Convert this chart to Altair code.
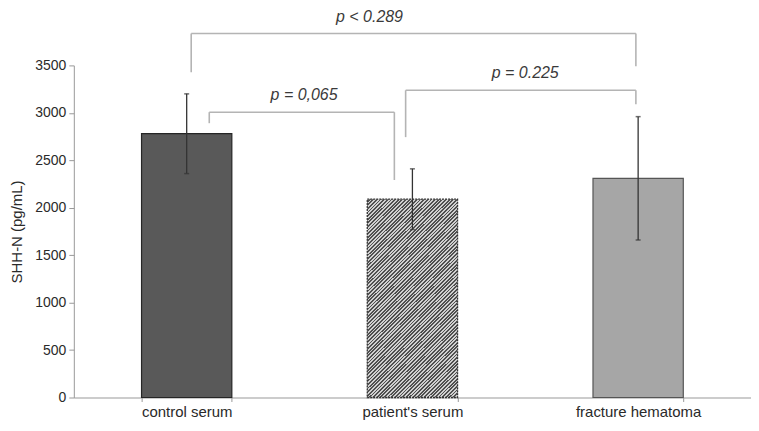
import altair as alt
import pandas as pd

categories = ["control serum", "patient's serum", "fracture hematoma"]
means = [2780, 2090, 2310]
errors = [420, 320, 650]

# significance brackets (x in category-index units, y in pg/mL)
br_left = [0.6, 1.47, 0.52]
br_right = [1.42, 2.49, 2.49]
br_top = [3007, 3238, 3837]
br_left_end = [2891, 2744, 3427]
br_right_end = [2292, 3091, 3490]
p_labels = ["p = 0,065", "p = 0.225", "p < 0.289"]
p_label_x = [1.02, 2.0, 1.31]
p_label_y = [3186, 3416, 4005]

df = pd.DataFrame({
    "cat": categories,
    "mean": means,
    "lo": [m - e for m, e in zip(means, errors)],
    "hi": [m + e for m, e in zip(means, errors)],
})

segs = []
for xl, xr, yt, yl, yr in zip(br_left, br_right, br_top, br_left_end, br_right_end):
    segs.append({"x": xl, "x2": xr, "y": yt, "y2": yt})
    segs.append({"x": xl, "x2": xl, "y": yt, "y2": yl})
    segs.append({"x": xr, "x2": xr, "y": yt, "y2": yr})
seg_df = pd.DataFrame(segs)
lab_df = pd.DataFrame({"label": p_labels, "x": p_label_x, "y": p_label_y})

FONT = "Liberation Sans"

xband = alt.X("cat:N", sort=categories, title=None,
              scale=alt.Scale(paddingInner=0.6, paddingOuter=0.3),
              axis=alt.Axis(labelAngle=0, labelFontSize=15, labelColor="#2a2a2a",
                            labelFont=FONT, domainColor="#999", tickColor="#999",
                            tickSize=4, tickBand="extent", labelPadding=3))
yscale = alt.Scale(domain=[0, 3500], nice=False)
yenc = alt.Y("mean:Q", scale=yscale, title="SHH-N (pg/mL)",
             axis=alt.Axis(values=[0, 500, 1000, 1500, 2000, 2500, 3000, 3500],
                           format="d", grid=False, labelFontSize=14, labelColor="#2a2a2a",
                           labelFont=FONT, titleFont=FONT, titleFontSize=15,
                           titleFontWeight="normal", titleColor="#2a2a2a",
                           domainColor="#999", tickColor="#999", tickSize=5,
                           labelPadding=3, titlePadding=10))

base = alt.Chart(df)

solid = base.transform_filter(alt.datum.cat != "patient's serum").mark_bar(
    strokeWidth=1.2
).encode(
    x=xband, y=yenc,
    color=alt.Color("cat:N", scale=alt.Scale(domain=["control serum", "fracture hematoma"],
                                             range=["#595959", "#a6a6a6"]), legend=None),
    stroke=alt.Stroke("cat:N", scale=alt.Scale(domain=["control serum", "fracture hematoma"],
                                               range=["#262626", "#555555"]), legend=None),
)

# diagonal hatch drawn as a striped linear gradient (bar aspect ~90 x 200 px)
vx, vy = 90.0 / 200.0, 1.0
t_scale = (vx + vy) / (vx * vx + vy * vy)
gx, gy = vx * t_scale, vy * t_scale
n_periods = 80
stops = []
for i in range(n_periods):
    a = i / n_periods
    m = (i + 0.5) / n_periods
    b = (i + 1) / n_periods
    stops += [alt.GradientStop(offset=a, color="#d0d0d0"),
              alt.GradientStop(offset=m, color="#d0d0d0"),
              alt.GradientStop(offset=m, color="#505050"),
              alt.GradientStop(offset=b, color="#505050")]
hatch = alt.LinearGradient(gradient="linear", stops=stops, x1=0, y1=0, x2=gx, y2=gy)

hatched = base.transform_filter(alt.datum.cat == "patient's serum").mark_bar(
    fill=hatch, stroke="#333333", strokeWidth=1.3, strokeDash=[2, 1]
).encode(x=xband, y=yenc)

err = base.mark_rule(color="#333333", strokeWidth=1.3).encode(
    x=xband, y=alt.Y("lo:Q", scale=yscale), y2="hi:Q")
cap_hi = base.mark_tick(color="#333333", thickness=1.5, size=5).encode(
    x=xband, y=alt.Y("hi:Q", scale=yscale))
cap_lo = base.mark_tick(color="#333333", thickness=1.5, size=5).encode(
    x=xband, y=alt.Y("lo:Q", scale=yscale))

bars = alt.layer(solid, hatched, err, cap_hi, cap_lo)

xq = alt.Scale(domain=[0, 3], nice=False, zero=False)
brackets = alt.Chart(seg_df).mark_rule(color="#b4b4b4", strokeWidth=1.6).encode(
    x=alt.X("x:Q", scale=xq, axis=None), x2="x2:Q",
    y=alt.Y("y:Q", scale=yscale), y2="y2:Q")
labels = alt.Chart(lab_df).mark_text(
    font=FONT, fontSize=16, fontStyle="italic", color="#3a3a3a"
).encode(x=alt.X("x:Q", scale=xq, axis=None), y=alt.Y("y:Q", scale=yscale), text="label:N")

ann = alt.layer(brackets, labels)

chart = alt.layer(bars, ann).resolve_scale(x="independent").properties(
    width=679, height=333,
    view=alt.ViewBackground(stroke="transparent", strokeWidth=0),
    autosize=alt.AutoSizeParams(type="none"),
    padding={"left": 66, "top": 57, "right": 0, "bottom": 25},
).configure_view(stroke="transparent", strokeWidth=0).configure_axis(
    grid=False).configure(background="white")

chart.save("out.html", embed_options={"renderer": "svg", "actions": False})
